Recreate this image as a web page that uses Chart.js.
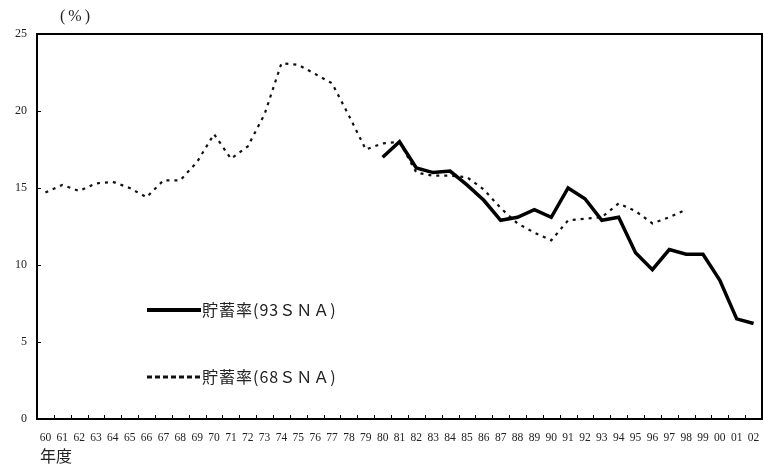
<!DOCTYPE html>
<html>
<head>
<meta charset="utf-8">
<script src="https://cdn.jsdelivr.net/npm/chart.js@4.4.0/dist/chart.umd.min.js"></script>
<style>
  html, body { margin: 0; padding: 0; background: #fff; }
</style>
</head>
<body>
<canvas id="myChart" width="764" height="468"></canvas>
<script>
const years = ["60","61","62","63","64","65","66","67","68","69","70","71","72","73","74","75","76","77","78","79",
  "80","81","82","83","84","85","86","87","88","89","90","91","92","93","94","95","96","97","98","99","00","01","02"];

// 93SNA: 80 - 02
const sna93 = [null,null,null,null,null,null,null,null,null,null,null,null,null,null,null,null,null,null,null,null,
  17.0,18.0,16.3,16.0,16.1,15.2,14.2,12.9,13.1,13.6,13.1,15.0,14.3,12.9,13.1,10.8,9.7,11.0,10.7,10.7,9.0,6.5,6.2];

// 68SNA: 60 - 98
const sna68 = [14.7,15.2,14.8,15.3,15.4,15.0,14.4,15.5,15.5,16.7,18.5,16.9,17.7,19.8,23.1,23.0,22.4,21.8,19.7,17.5,
  17.9,18.0,16.0,15.8,15.8,15.7,14.9,13.7,12.7,12.1,11.6,12.9,13.0,13.1,14.0,13.5,12.7,13.1,13.6,null,null,null,null];

const yTicks = [0, 5, 10, 15, 20, 25];
const unitText = "(%)";
const xTitle = "年度";
const label93 = "貯蓄率(93ＳＮＡ)";
const label68 = "貯蓄率(68ＳＮＡ)";

const serif = "'Liberation Serif', 'DejaVu Serif', serif";
const cjk = "'Noto Sans CJK JP', 'Liberation Serif', sans-serif";

const frame = {
  id: 'frame',
  afterDraw(chart) {
    const ctx = chart.ctx;
    const a = chart.chartArea;
    const xs = chart.scales.x, ys = chart.scales.y;
    ctx.save();
    ctx.strokeStyle = '#000';
    ctx.lineWidth = 2;
    ctx.strokeRect(a.left, a.top, a.right - a.left, a.bottom - a.top);

    // inward ticks
    ctx.lineWidth = 1;
    ctx.beginPath();
    for (let i = 0; i < years.length - 1; i++) {
      const px = Math.round((xs.getPixelForValue(i) + xs.getPixelForValue(i + 1)) / 2) + 0.5;
      ctx.moveTo(px, a.bottom);
      ctx.lineTo(px, a.bottom - 4);
    }
    yTicks.forEach(v => {
      const py = Math.round(ys.getPixelForValue(v)) + 0.5;
      ctx.moveTo(a.left, py);
      ctx.lineTo(a.left + 4, py);
    });
    ctx.stroke();

    // legend inside plot
    const items = [
      {ds: chart.data.datasets[0], text: label93, y: 310, width: 4, dash: []},
      {ds: chart.data.datasets[1], text: label68, y: 377, width: 3, dash: [5, 3]}
    ];
    items.forEach(it => {
      ctx.strokeStyle = it.ds.borderColor;
      ctx.lineWidth = it.width;
      ctx.setLineDash(it.dash);
      ctx.beginPath();
      ctx.moveTo(147, it.y);
      ctx.lineTo(201, it.y);
      ctx.stroke();
      ctx.setLineDash([]);
      ctx.fillStyle = '#222';
      ctx.font = "16px " + cjk;
      ctx.letterSpacing = '1px';
      ctx.textBaseline = 'middle';
      ctx.textAlign = 'left';
      ctx.fillText(it.text, 202, it.y);
    });

    // unit and axis title
    ctx.fillStyle = '#222';
    ctx.font = "16px " + serif;
    ctx.letterSpacing = '3px';
    ctx.textAlign = 'left';
    ctx.textBaseline = 'middle';
    ctx.fillText(unitText, 60, 17);
    ctx.letterSpacing = '0px';
    ctx.font = "16px " + cjk;
    ctx.fillText(xTitle, 40, 456);
    ctx.restore();
  }
};

new Chart("myChart", {
  type: "line",
  data: {
    labels: years,
    datasets: [{
      label: label93,
      data: sna93,
      borderColor: "#000",
      borderWidth: 3.5,
      pointRadius: 0,
      tension: 0,
      fill: false
    }, {
      label: label68,
      data: sna68,
      borderColor: "#111",
      borderWidth: 2.2,
      borderDash: [3, 5],
      pointRadius: 0,
      tension: 0,
      fill: false
    }]
  },
  options: {
    responsive: false,
    animation: false,
    devicePixelRatio: 1,
    layout: {padding: {top: 34, right: 2, left: 0, bottom: 0}},
    plugins: {
      legend: {display: false},
      tooltip: {enabled: false}
    },
    scales: {
      x: {
        offset: true,
        grid: {drawOnChartArea: false, drawTicks: true, tickLength: 12, tickColor: 'rgba(0,0,0,0)'},
        border: {display: false},
        ticks: {
          autoSkip: false, maxRotation: 0, minRotation: 0,
          padding: 0,
          color: '#222',
          font: {family: serif, size: 11.5}
        },
        afterFit(s) { s.height = 49; }
      },
      y: {
        min: 0, max: 25,
        grid: {drawOnChartArea: false, drawTicks: false},
        border: {display: false},
        ticks: {
          stepSize: 5,
          padding: 10,
          color: '#222',
          font: {family: serif, size: 12}
        },
        afterFit(s) { s.width = 37; }
      }
    }
  },
  plugins: [frame]
});
</script>
</body>
</html>
